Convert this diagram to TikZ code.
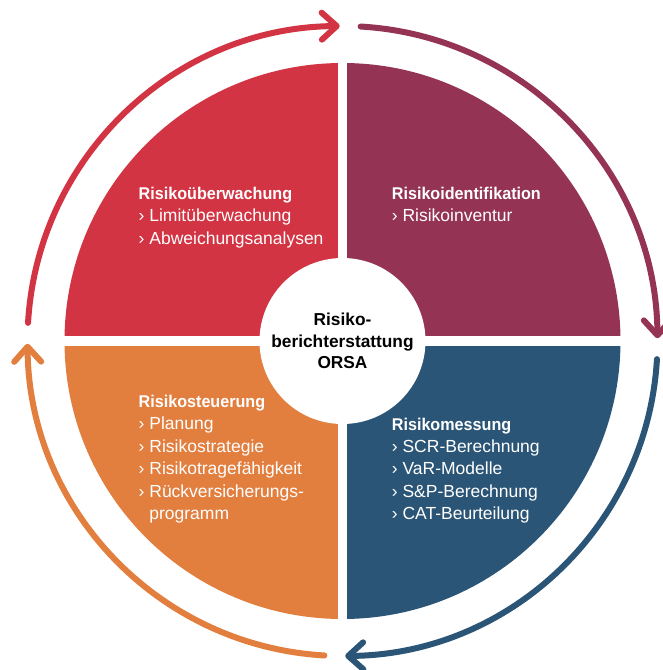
\documentclass[tikz,border=0pt]{standalone}
\usepackage{fontspec}
\setmainfont{Liberation Sans}
\newfontfamily\bcond[FakeStretch=0.95]{Liberation Sans}
\usetikzlibrary{arrows.meta}
\definecolor{cred}{HTML}{D33443}
\definecolor{cmaroon}{HTML}{943353}
\definecolor{cblue}{HTML}{2B5576}
\definecolor{corange}{HTML}{E27E3E}
\begin{document}
\begin{tikzpicture}[x=1pt,y=1pt,
  lbl/.style={anchor=base west, inner sep=0pt, text=white, font=\fontsize{17.5}{20}\selectfont},
  ttl/.style={lbl, font=\fontsize{17}{20}\bcond\bfseries},
  ctr/.style={anchor=base, inner sep=0pt, text=black, font=\fontsize{17.3}{20}\selectfont\bfseries},
  ring/.style={line width=6pt, line cap=round, line join=round, -{Straight Barb[length=15pt,width=27pt,round]}}]
\useasboundingbox (-342.5,-329) rectangle (320.5,341);
% quadrants
\fill[cred] (0,0) -- (180:278) arc[start angle=180,end angle=90,radius=278] -- cycle;
\fill[cmaroon] (0,0) -- (90:278) arc[start angle=90,end angle=0,radius=278] -- cycle;
\fill[cblue] (0,0) -- (0:278) arc[start angle=0,end angle=-90,radius=278] -- cycle;
\fill[corange] (0,0) -- (-90:278) arc[start angle=-90,end angle=-180,radius=278] -- cycle;
\draw[white, line width=9.5pt] (-282,0) -- (282,0);
\draw[white, line width=9.5pt] (0,-282) -- (0,282);
\node[circle, fill=white, minimum size=166pt, inner sep=0pt] (hub) at (0,0) {};
% ring arrows
\draw[ring, cred] (176.7:315) arc[start angle=176.7, end angle=90.5, radius=315];
\draw[ring, cmaroon] (86.7:315) arc[start angle=86.7, end angle=0.5, radius=315];
\draw[ring, cblue] (-3.3:315) arc[start angle=-3.3, end angle=-89.5, radius=315];
\draw[ring, corange] (-93.3:315) arc[start angle=-93.3, end angle=-179.5, radius=315];
% centre text
\node[ctr] (c1) at (0,16) {Risiko-};
\node[ctr] (c2) at (0,-6) {berichterstattung};
\node[ctr] (c3) at (0,-27) {ORSA};
% top left
\node[ttl] (a0) at (-204,142) {Risikoüberwachung};
\node[lbl] (a1) at (-204,119.5) {› Limitüberwachung};
\node[lbl] (a2) at (-204,97) {› Abweichungsanalysen};
% top right
\node[ttl] (b0) at (49.2,142) {Risikoidentifikation};
\node[lbl] (b1) at (49.2,119.5) {› Risikoinventur};
% bottom left
\node[ttl] (d0) at (-204,-66) {Risikosteuerung};
\node[lbl] (d1) at (-204,-88.5) {› Planung};
\node[lbl] (d2) at (-204,-111) {› Risikostrategie};
\node[lbl] (d3) at (-204,-133.5) {› Risikotragefähigkeit};
\node[lbl] (d4) at (-204,-156) {› Rückversicherungs-};
\node[lbl] (d5) at (-204,-178) {\phantom{›~}programm};
% bottom right
\node[ttl] (e0) at (49.2,-89) {Risikomessung};
\node[lbl] (e1) at (49.2,-111) {› SCR-Berechnung};
\node[lbl] (e2) at (49.2,-133.5) {› VaR-Modelle};
\node[lbl] (e3) at (49.2,-156) {› S\&P-Berechnung};
\node[lbl] (e4) at (49.2,-178) {› CAT-Beurteilung};
\end{tikzpicture}
\end{document}
